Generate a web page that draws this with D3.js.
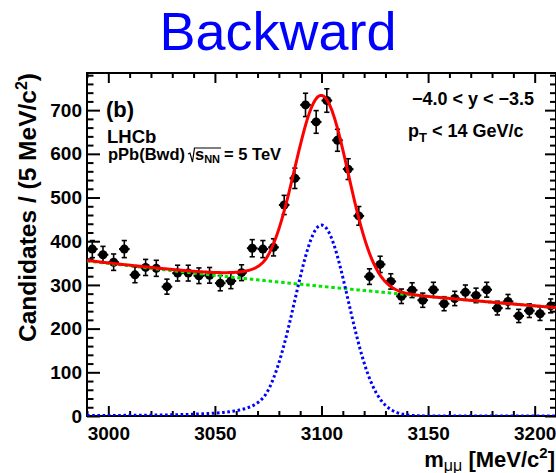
<!DOCTYPE html>
<html>
<head>
<meta charset="utf-8">
<script src="https://cdn.jsdelivr.net/npm/d3@7"></script>
<style>
  html, body { margin: 0; padding: 0; background: #fff; }
  svg { display: block; font-family: "Liberation Sans", Arial, Helvetica, sans-serif; }
</style>
</head>
<body>
<svg id="chart" width="556" height="473"></svg>
<script>
// Dimuon mass bins (5 MeV/c^2) and candidate counts per bin
const binCenters = [
  2992.5, 2997.5, 3002.5, 3007.5, 3012.5, 3017.5, 3022.5, 3027.5, 3032.5, 3037.5, 3042.5,
  3047.5, 3052.5, 3057.5, 3062.5, 3067.5, 3072.5, 3077.5, 3082.5, 3087.5, 3092.5, 3097.5,
  3102.5, 3107.5, 3112.5, 3117.5, 3122.5, 3127.5, 3132.5, 3137.5, 3142.5, 3147.5, 3152.5,
  3157.5, 3162.5, 3167.5, 3172.5, 3177.5, 3182.5, 3187.5, 3192.5, 3197.5, 3202.5, 3207.5
];
const candidates = [
  382, 369, 352, 382, 323, 340, 338, 296, 327, 327, 321,
  322, 304, 309, 328, 384, 382, 386, 483, 544, 712, 673,
  722, 631, 565, 458, 319, 347, 308, 274, 288, 265, 289,
  257, 269, 283, 276, 289, 247, 262, 229, 241, 234, 252
];
const binWidth = 5;

// Axis ranges and ticks
const massRange = [2990, 3210];
const countRange = [0, 785];
const xMajorTicks = [3000, 3050, 3100, 3150, 3200];
const yMajorTicks = [0, 100, 200, 300, 400, 500, 600, 700];

// Fit model: Crystal Ball signal + exponential background (counts per bin)
const signalFit = { mean: 3100, sigma: 12.5, alpha: 2.0, n: 2.0, peak: 437 };
const backgroundFit = { ref: 2990, level: 355, slope: 0.00163 };

function crystalBall(m) {
  const { mean, sigma, alpha, n, peak } = signalFit;
  const t = (m - mean) / sigma;
  if (t > -alpha) return peak * Math.exp(-0.5 * t * t);
  const A = Math.pow(n / alpha, n) * Math.exp(-0.5 * alpha * alpha);
  const B = n / alpha - alpha;
  return peak * A * Math.pow(B - t, -n);
}
function background(m) {
  return backgroundFit.level * Math.exp(-backgroundFit.slope * (m - backgroundFit.ref));
}
function total(m) { return crystalBall(m) + background(m); }

const svg = d3.select("#chart");
const plot = { left: 87, right: 556, top: 73, bottom: 416 };

const x = d3.scaleLinear().domain(massRange).range([plot.left, plot.right]);
const y = d3.scaleLinear().domain(countRange).range([plot.bottom, plot.top]);

const xMinor = d3.range(massRange[0], massRange[1] + 0.1, 10).filter(v => !xMajorTicks.includes(v));
const yMinor = d3.range(0, countRange[1], 20).filter(v => !yMajorTicks.includes(v));

// Title
svg.append("text")
  .attr("x", 278).attr("y", 50)
  .attr("text-anchor", "middle")
  .attr("fill", "#0000ff")
  .style("font-size", "54px")
  .text("Backward");

// Clip for plot contents
svg.append("defs").append("clipPath").attr("id", "plotClip")
  .append("rect")
  .attr("x", plot.left).attr("y", plot.top)
  .attr("width", plot.right - plot.left).attr("height", plot.bottom - plot.top);

// Axes (ticks point inside the frame)
const axisStyle = g => {
  g.select(".domain").remove();
  g.selectAll("line").attr("stroke", "#000").attr("stroke-width", 2);
  g.selectAll("text").attr("fill", "#000").style("font-size", "19px").style("font-weight", "bold");
};

svg.append("g").attr("transform", `translate(0,${plot.bottom})`)
  .call(d3.axisBottom(x).tickValues(xMajorTicks).tickSizeInner(-10).tickSizeOuter(0)
    .tickPadding(11).tickFormat(d3.format("d")))
  .call(axisStyle);
svg.append("g").attr("transform", `translate(0,${plot.bottom})`)
  .call(d3.axisBottom(x).tickValues(xMinor).tickSizeInner(-5).tickSizeOuter(0).tickFormat(""))
  .call(axisStyle);
svg.append("g").attr("transform", `translate(0,${plot.top})`)
  .call(d3.axisTop(x).tickValues(xMajorTicks).tickSizeInner(-10).tickSizeOuter(0).tickFormat(""))
  .call(axisStyle);
svg.append("g").attr("transform", `translate(0,${plot.top})`)
  .call(d3.axisTop(x).tickValues(xMinor).tickSizeInner(-5).tickSizeOuter(0).tickFormat(""))
  .call(axisStyle);

svg.append("g").attr("transform", `translate(${plot.left},0)`)
  .call(d3.axisLeft(y).tickValues(yMajorTicks).tickSizeInner(-13).tickSizeOuter(0)
    .tickPadding(5).tickFormat(d3.format("d")))
  .call(axisStyle);
svg.append("g").attr("transform", `translate(${plot.left},0)`)
  .call(d3.axisLeft(y).tickValues(yMinor).tickSizeInner(-6.5).tickSizeOuter(0).tickFormat(""))
  .call(axisStyle);
svg.append("g").attr("transform", `translate(${plot.right},0)`)
  .call(d3.axisRight(y).tickValues(yMajorTicks).tickSizeInner(-11).tickSizeOuter(0).tickFormat(""))
  .call(axisStyle);
svg.append("g").attr("transform", `translate(${plot.right},0)`)
  .call(d3.axisRight(y).tickValues(yMinor).tickSizeInner(-6).tickSizeOuter(0).tickFormat(""))
  .call(axisStyle);

// Frame
svg.append("rect")
  .attr("x", plot.left).attr("y", plot.top)
  .attr("width", plot.right - plot.left).attr("height", plot.bottom - plot.top)
  .attr("fill", "none").attr("stroke", "#000").attr("stroke-width", 2);

// Data points with Poisson error bars
const content = svg.append("g").attr("clip-path", "url(#plotClip)");
const pts = binCenters.map((m, i) => ({ m, n: candidates[i], e: Math.sqrt(candidates[i]) }));
const dataG = content.append("g").attr("stroke", "#000").attr("stroke-width", 1.6);
const capW = 2.6;
pts.forEach(p => {
  const cx = x(p.m), cy = y(p.n), yHi = y(p.n + p.e), yLo = y(p.n - p.e);
  dataG.append("line").attr("x1", cx).attr("x2", cx).attr("y1", yHi).attr("y2", yLo);
  dataG.append("line").attr("x1", cx - capW).attr("x2", cx + capW).attr("y1", yHi).attr("y2", yHi);
  dataG.append("line").attr("x1", cx - capW).attr("x2", cx + capW).attr("y1", yLo).attr("y2", yLo);
  dataG.append("line").attr("x1", x(p.m - binWidth / 2)).attr("x2", x(p.m + binWidth / 2))
    .attr("y1", cy).attr("y2", cy).attr("stroke-width", 2);
  dataG.append("circle").attr("cx", cx).attr("cy", cy).attr("r", 4.5).attr("fill", "#000").attr("stroke", "none");
});

// Fit curves
const grid = d3.range(massRange[0], massRange[1] + 0.25, 0.5);
const curve = f => d3.line().x(m => x(m)).y(m => y(f(m)))(grid);

content.append("path").attr("d", curve(background))
  .attr("fill", "none").attr("stroke", "#00e600").attr("stroke-width", 3)
  .attr("stroke-dasharray", "3.5,2.8");
content.append("path").attr("d", curve(crystalBall))
  .attr("fill", "none").attr("stroke", "#0000ff").attr("stroke-width", 3)
  .attr("stroke-dasharray", "2.6,2.6");
content.append("path").attr("d", curve(total))
  .attr("fill", "none").attr("stroke", "#ff0000").attr("stroke-width", 3);

// Axis titles
const yTitle = svg.append("text")
  .attr("transform", `translate(36,${plot.top}) rotate(-90)`)
  .attr("text-anchor", "end")
  .style("font-size", "24.5px").style("font-weight", "bold");
yTitle.append("tspan").text("Candidates / (5 MeV/c");
yTitle.append("tspan").attr("dy", -9).style("font-size", "16px").text("2");
yTitle.append("tspan").attr("dy", 9).text(")");

const xTitle = svg.append("text")
  .attr("x", 555).attr("y", 467)
  .attr("text-anchor", "end")
  .style("font-size", "22px").style("font-weight", "bold");
xTitle.append("tspan").text("m");
xTitle.append("tspan").attr("dy", 4).style("font-size", "16px").style("font-weight", "normal").text("\u03bc\u03bc");
xTitle.append("tspan").attr("dy", -4).text(" [MeV/c");
xTitle.append("tspan").attr("dy", -9).style("font-size", "15px").text("2");
xTitle.append("tspan").attr("dy", 9).text("]");

// Labels inside the frame
svg.append("text").attr("x", 106).attr("y", 117)
  .style("font-size", "22px").style("font-weight", "bold").text("(b)");
svg.append("text").attr("x", 107).attr("y", 143)
  .style("font-size", "18.5px").style("font-weight", "bold").text("LHCb");

const energyY = 160;
const t1 = svg.append("text").attr("x", 108).attr("y", energyY)
  .style("font-size", "16.5px").style("font-weight", "bold").text("pPb(Bwd)");
const r0 = 108 + t1.node().getComputedTextLength() + 3;
const sText = svg.append("text").attr("x", r0 + 7).attr("y", energyY)
  .style("font-size", "16.5px").style("font-weight", "bold");
sText.append("tspan").text("s");
sText.append("tspan").attr("dy", 3).style("font-size", "11px").text("NN");
const sEnd = r0 + 7 + sText.node().getComputedTextLength() + 1;
svg.append("path")
  .attr("d", `M${r0},${energyY - 6} L${r0 + 2},${energyY - 7} L${r0 + 4.5},${energyY + 2} L${r0 + 6.5},${energyY - 12} L${sEnd},${energyY - 12}`)
  .attr("fill", "none").attr("stroke", "#000").attr("stroke-width", 1.2);
svg.append("text").attr("x", sEnd + 3).attr("y", energyY)
  .style("font-size", "16.5px").style("font-weight", "bold").text("= 5 TeV");

svg.append("text").attr("x", 534).attr("y", 105).attr("text-anchor", "end")
  .style("font-size", "18px").style("font-weight", "bold").text("\u22124.0 < y < \u22123.5");
const pt = svg.append("text").attr("x", 408).attr("y", 137)
  .style("font-size", "18px").style("font-weight", "bold");
pt.append("tspan").text("p");
pt.append("tspan").attr("dy", 5).style("font-size", "13px").text("T");
pt.append("tspan").attr("dy", -5).text(" < 14 GeV/c");
</script>
</body>
</html>
